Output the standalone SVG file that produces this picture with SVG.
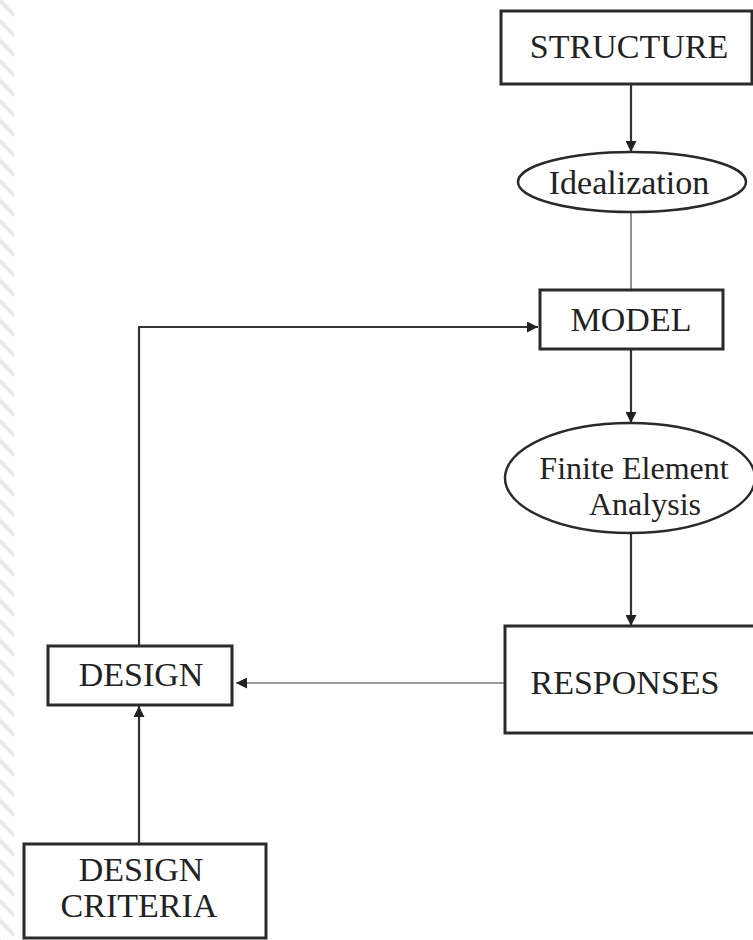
<svg xmlns="http://www.w3.org/2000/svg" width="753" height="940" viewBox="0 0 753 940">
<style>
.box{fill:#fff;stroke:#2a2a2a;stroke-width:3}
.ell{fill:#fff;stroke:#2a2a2a;stroke-width:2.5}
.t{font-family:"Liberation Serif","Times New Roman",serif;font-size:34px;fill:#222;text-anchor:middle}
.s{font-size:32px}
.c{fill:none;stroke:#333;stroke-width:2.2}
.cl{fill:none;stroke:#777;stroke-width:1.6}
</style>
<defs>
<marker id="ah" viewBox="0 0 10 10" refX="10" refY="5" markerWidth="11" markerHeight="11" markerUnits="userSpaceOnUse" orient="auto">
<path d="M0,0 L10,5 L0,10 z" fill="#222"/>
</marker>
<pattern id="hatch" patternUnits="userSpaceOnUse" width="14" height="20">
<path d="M-2,-1 L16,17 M-2,-21 L16,-3 M-2,19 L16,37" stroke="#e8e8e8" stroke-width="4"/>
</pattern>
</defs>
<rect width="753" height="940" fill="#fff"/>
<rect x="0" y="0" width="14" height="940" fill="url(#hatch)"/>
<g id="connectors">
<line class="c" x1="631" y1="85" x2="631" y2="152" marker-end="url(#ah)"/>
<line class="cl" x1="631" y1="213" x2="631" y2="290"/>
<line class="c" x1="631" y1="349" x2="631" y2="423" marker-end="url(#ah)"/>
<line class="c" x1="631" y1="533" x2="631" y2="626" marker-end="url(#ah)"/>
<line class="cl" x1="505" y1="683" x2="236" y2="683" marker-end="url(#ah)"/>
<polyline class="c" points="139,646 139,327 538,327" marker-end="url(#ah)"/>
<line class="c" x1="139" y1="844" x2="139" y2="706" marker-end="url(#ah)"/>
</g>
<g id="structure">
<rect class="box" x="501" y="11" width="251" height="73"/>
<text class="t" x="629" y="58">STRUCTURE</text>
</g>
<g id="idealization">
<ellipse class="ell" cx="632" cy="182" rx="114" ry="30"/>
<text class="t" x="629" y="194">Idealization</text>
</g>
<g id="model">
<rect class="box" x="540" y="290" width="183" height="59"/>
<text class="t" x="631" y="331">MODEL</text>
</g>
<g id="fea">
<ellipse class="ell" cx="630" cy="478" rx="125" ry="55"/>
<text class="t s" x="634" y="479">Finite Element</text>
<text class="t s" x="645" y="515">Analysis</text>
</g>
<g id="responses">
<rect class="box" x="505" y="626" width="260" height="107"/>
<text class="t" x="625" y="694">RESPONSES</text>
</g>
<g id="design">
<rect class="box" x="48" y="646" width="184" height="59"/>
<text class="t" x="141" y="686">DESIGN</text>
</g>
<g id="design-criteria">
<rect class="box" x="24" y="844" width="242" height="94"/>
<text class="t" x="141" y="881">DESIGN</text>
<text class="t" x="139" y="917">CRITERIA</text>
</g>
</svg>
